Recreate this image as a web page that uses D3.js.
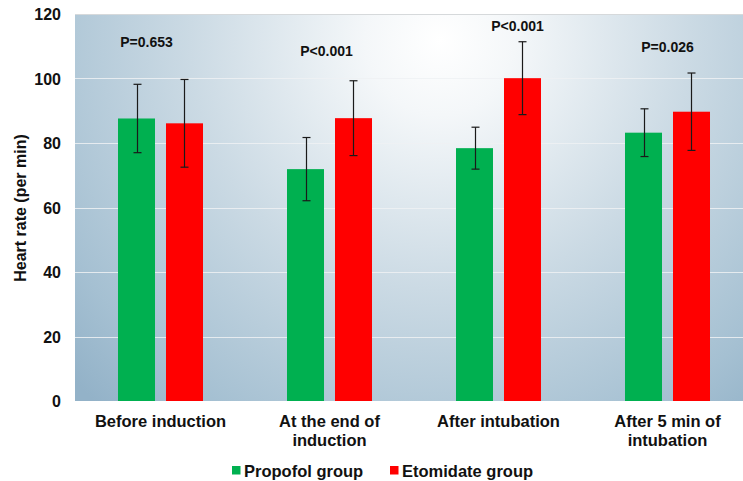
<!DOCTYPE html>
<html>
<head>
<meta charset="utf-8">
<script src="https://cdn.jsdelivr.net/npm/d3@7"></script>
<style>
  html, body { margin: 0; padding: 0; background: #fff; }
  svg { display: block; }
  text { font-family: "Liberation Sans", Arial, sans-serif; font-weight: bold; fill: #111; }
</style>
</head>
<body>
<svg id="chart" width="743" height="481"></svg>
<script>
// ---- data ----
const categories = [["Before induction"], ["At the end of", "induction"], ["After intubation"], ["After 5 min of", "intubation"]];
const seriesNames = ["Propofol group", "Etomidate group"];
const seriesColors = ["#00b050", "#ff0000"];
const propofol = [87.6, 71.9, 78.4, 83.2];
const propofolSD = [10.6, 9.8, 6.5, 7.4];
const etomidate = [86.1, 87.7, 100.1, 89.7];
const etomidateSD = [13.6, 11.6, 11.3, 12.0];
const pLabels = ["P=0.653", "P<0.001", "P<0.001", "P=0.026"];
const pLabelY = [109.8, 107.1, 114.6, 108.2];
const pLabelDx = [-14, -3, 19, 0];
const yTicks = [0, 20, 40, 60, 80, 100, 120];
const yTitle = "Heart rate (per min)";

// ---- layout ----
const svg = d3.select("#chart");
const plotL = 76, plotR = 752, plotT = 14, plotB = 401;
const catKeys = categories.map((c, i) => i);

const x0 = d3.scaleBand().domain(catKeys).range([plotL, plotR]).paddingInner(0).paddingOuter(0);
const x1 = d3.scaleBand().domain(seriesNames).range([0, x0.bandwidth()]).paddingInner(0.229).paddingOuter(0.875);
const y = d3.scaleLinear().domain([0, 120]).range([plotB, plotT]);

// background gradient
const defs = svg.append("defs");
const grad = defs.append("radialGradient").attr("id", "bg")
  .attr("gradientUnits", "userSpaceOnUse")
  .attr("cx", 440).attr("cy", 40).attr("r", 500);
grad.append("stop").attr("offset", 0).attr("stop-color", "#ffffff");
grad.append("stop").attr("offset", 0.15).attr("stop-color", "#f4f7f9");
grad.append("stop").attr("offset", 0.5).attr("stop-color", "#cbdae4");
grad.append("stop").attr("offset", 0.85).attr("stop-color", "#a5c0d2");
grad.append("stop").attr("offset", 1).attr("stop-color", "#93b2c8");

svg.append("rect").attr("x", plotL - 1).attr("y", y(120)).attr("width", plotR - plotL + 1).attr("height", y(0) - y(120))
  .attr("fill", "url(#bg)");

// gridlines
svg.append("g").selectAll("line").data(yTicks.filter(t => t > 0)).join("line")
  .attr("x1", plotL - 1).attr("x2", plotR)
  .attr("y1", d => Math.round(y(d)) + 0.5).attr("y2", d => Math.round(y(d)) + 0.5)
  .attr("stroke", d => d === 120 ? "#d6d9db" : "#eef1f3")
  .attr("stroke-opacity", d => d === 120 ? 1 : 0.85)
  .attr("stroke-width", 1);

// y axis
const yAxis = d3.axisLeft(y).tickValues(yTicks).tickSize(0).tickPadding(0);
const gy = svg.append("g").attr("transform", `translate(${61},0)`).call(yAxis);
gy.select(".domain").remove();
gy.selectAll("text").attr("font-size", "16px").attr("font-family", "Liberation Sans, Arial, sans-serif")
  .attr("font-weight", "bold").attr("fill", "#111").attr("dy", "0.36em");

// y title
svg.append("text").attr("transform", `translate(26,208) rotate(-90)`)
  .attr("text-anchor", "middle").attr("font-size", "16px").text(yTitle);

// bars
const seriesVals = [propofol, etomidate];
const seriesSD = [propofolSD, etomidateSD];
const rows = [];
catKeys.forEach(i => seriesNames.forEach((s, k) => rows.push({ i, s, k, v: seriesVals[k][i], sd: seriesSD[k][i] })));

svg.append("g").selectAll("rect").data(rows).join("rect")
  .attr("x", d => x0(d.i) + x1(d.s))
  .attr("width", x1.bandwidth())
  .attr("y", d => y(d.v))
  .attr("height", d => y(0) - y(d.v))
  .attr("fill", d => seriesColors[d.k]);

// error bars
const eb = svg.append("g").attr("stroke", "#1a1a1a").attr("stroke-width", 1.2);
rows.forEach(d => {
  const cx = Math.round(x0(d.i) + x1(d.s) + x1.bandwidth() / 2) + 0.5;
  eb.append("line").attr("x1", cx).attr("x2", cx).attr("y1", y(d.v + d.sd)).attr("y2", y(d.v - d.sd));
  eb.append("line").attr("x1", cx - 4).attr("x2", cx + 4).attr("y1", y(d.v + d.sd)).attr("y2", y(d.v + d.sd));
  eb.append("line").attr("x1", cx - 4).attr("x2", cx + 4).attr("y1", y(d.v - d.sd)).attr("y2", y(d.v - d.sd));
});

// p labels
svg.append("g").selectAll("text").data(pLabels).join("text")
  .attr("x", (d, i) => x0(i) + x0.bandwidth() / 2 + pLabelDx[i])
  .attr("y", (d, i) => y(pLabelY[i]))
  .attr("text-anchor", "middle").attr("font-size", "14px").text(d => d);

// category labels
const cl = svg.append("g");
categories.forEach((lines, i) => {
  const t = cl.append("text").attr("text-anchor", "middle").attr("font-size", "16.5px")
    .attr("x", x0(i) + x0.bandwidth() / 2).attr("y", 427);
  lines.forEach((ln, j) => {
    t.append("tspan").attr("x", x0(i) + x0.bandwidth() / 2).attr("dy", j === 0 ? 0 : 18.5).text(ln);
  });
});

// legend
const legX = [232, 390];
seriesNames.forEach((s, k) => {
  svg.append("rect").attr("x", legX[k]).attr("y", 466).attr("width", 8.5).attr("height", 8.5).attr("fill", seriesColors[k]);
  svg.append("text").attr("x", legX[k] + 12).attr("y", 477).attr("font-size", "16.5px").text(s);
});
</script>
</body>
</html>
